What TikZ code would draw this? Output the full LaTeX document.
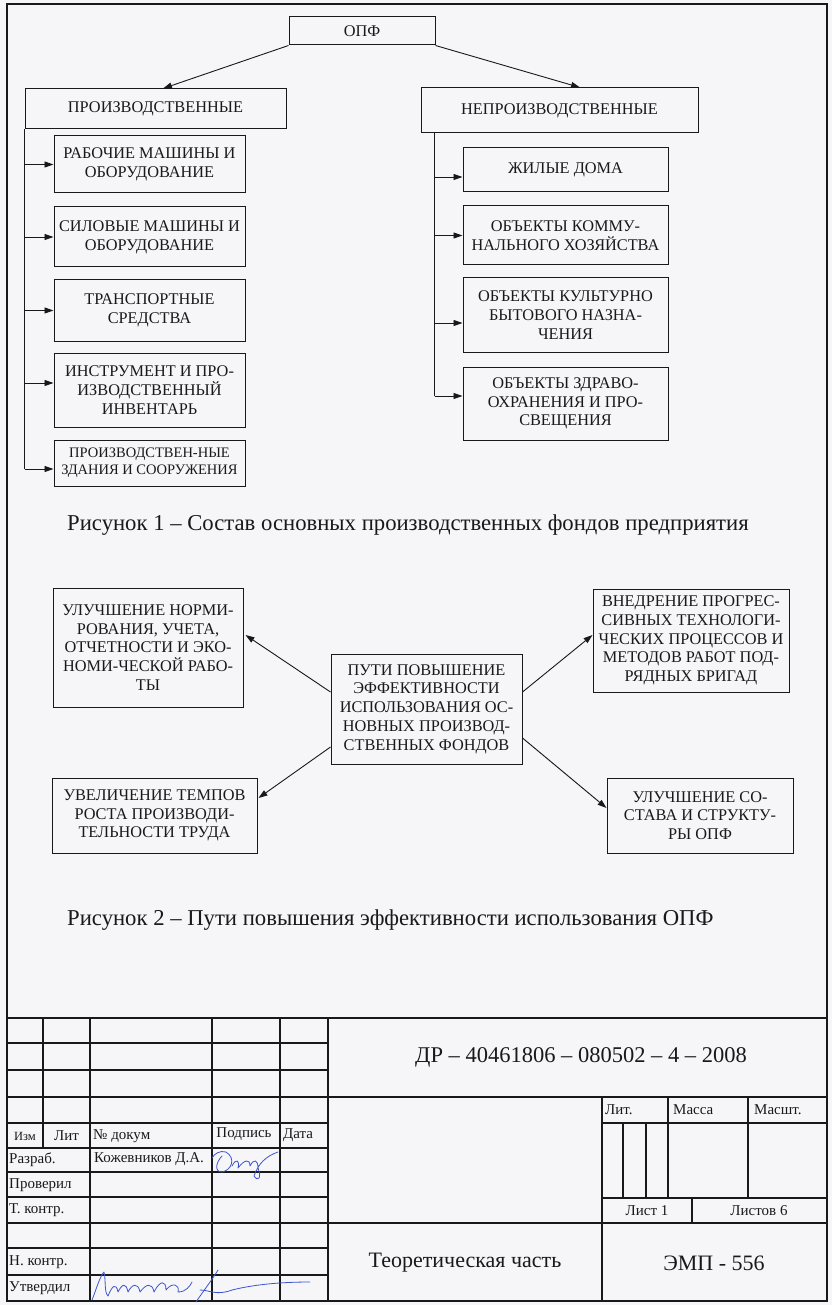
\documentclass[tikz,border=0pt]{standalone}
\usepackage{fontspec}
\setmainfont{Liberation Serif}
\usetikzlibrary{arrows.meta,calc}
\definecolor{paper}{RGB}{246,246,249}
\definecolor{ink}{RGB}{25,25,25}
\definecolor{sig}{RGB}{60,85,205}
\begin{document}
\begin{tikzpicture}[x=1pt,y=-1pt,
  box/.style={draw=ink, line width=1pt, inner sep=0pt, align=center, text=ink, font=\fontsize{16.3}{18.7}\selectfont},
  arr/.style={draw=ink, line width=0.9pt, -{Triangle[length=9pt,width=6pt]}},
  ln/.style={draw=ink, line width=0.9pt},
  tb/.style={draw=ink, line width=1.3pt},
  capt/.style={font=\fontsize{22.7}{26}\selectfont, text=ink, inner sep=0pt, anchor=base west},
  big/.style={font=\fontsize{22}{26}\selectfont, text=ink, inner sep=0pt},
  sm/.style={font=\fontsize{15}{17}\selectfont, text=ink, inner sep=0pt},
  sg/.style={draw=sig, line width=0.8pt, line cap=round, line join=round},
]
\fill[paper] (0,0) rectangle (832,1305);
\useasboundingbox (0,0) rectangle (832,1305);
\draw[ink, line width=2pt] (7,4) rectangle (827,1301);

% ---------- Figure 1 ----------
\node[box, minimum width=146pt, minimum height=28pt] (opf) at (362,31) {ОПФ};
\node[box, minimum width=261pt, minimum height=40pt] (prod) at (155.5,109) {ПРОИЗВОДСТВЕННЫЕ};
\node[box, minimum width=277pt, minimum height=45pt] (nonprod) at (559.5,110.5) {НЕПРОИЗВОДСТВЕННЫЕ};

\node[box, minimum width=191pt, minimum height=57pt] (b1) at (149.5,164.5) {РАБОЧИЕ МАШИНЫ И\\ОБОРУДОВАНИЕ};
\node[box, minimum width=191pt, minimum height=60pt] (b2) at (149.5,237) {СИЛОВЫЕ МАШИНЫ И\\ОБОРУДОВАНИЕ};
\node[box, minimum width=191pt, minimum height=61pt] (b3) at (149.5,310.5) {ТРАНСПОРТНЫЕ\\СРЕДСТВА};
\node[box, minimum width=191pt, minimum height=74pt] (b4) at (149.5,390) {ИНСТРУМЕНТ И ПРО-\\ИЗВОДСТВЕННЫЙ\\ИНВЕНТАРЬ};
\node[box, minimum width=191pt, minimum height=46pt, font=\fontsize{14.5}{17}\selectfont] (b5) at (149.5,463) {ПРОИЗВОДСТВЕН-НЫЕ\\ЗДАНИЯ И СООРУЖЕНИЯ};

\node[box, minimum width=205pt, minimum height=44pt] (r1) at (565.5,170) {ЖИЛЫЕ ДОМА};
\node[box, minimum width=205pt, minimum height=59pt] (r2) at (565.5,235.5) {ОБЪЕКТЫ КОММУ-\\НАЛЬНОГО ХОЗЯЙСТВА};
\node[box, minimum width=205pt, minimum height=74pt] (r3) at (565.5,315) {ОБЪЕКТЫ КУЛЬТУРНО\\БЫТОВОГО НАЗНА-\\ЧЕНИЯ};
\node[box, minimum width=205pt, minimum height=73pt] (r4) at (565.5,403.5) {ОБЪЕКТЫ ЗДРАВО-\\ОХРАНЕНИЯ И ПРО-\\СВЕЩЕНИЯ};

\draw[arr] (opf.south west) -- ($(prod.north)+(7.5,0)$);
\draw[arr] (opf.south east) -- ($(nonprod.north)+(20.5,0)$);

\coordinate (a1) at (b1.west);
\coordinate (a2) at (b2.west);
\coordinate (a3) at (b3.west);
\coordinate (a4) at ($(b4.west)+(0,-7)$);
\coordinate (a5) at ($(b5.west)+(0,6)$);
\draw[ln] (prod.south west) -- (prod.south west |- a5);
\foreach \a in {a1,a2,a3,a4,a5} \draw[arr] (prod.south west |- \a) -- (\a);

\coordinate (rt) at ($(nonprod.south west)+(14,0)$);
\coordinate (c1) at ($(r1.west)+(0,7)$);
\coordinate (c2) at (r2.west);
\coordinate (c3) at ($(r3.west)+(0,8)$);
\coordinate (c4) at ($(r4.west)+(0,-7.5)$);
\draw[ln] (rt) -- (rt |- c4);
\foreach \a in {c1,c2,c3,c4} \draw[arr] (rt |- \a) -- (\a);

\node[capt] (cap1) at (67,530) {Рисунок 1 – Состав основных производственных фондов предприятия};

% ---------- Figure 2 ----------
\node[box, minimum width=190pt, minimum height=119pt] (n1) at (148,647.5) {УЛУЧШЕНИЕ НОРМИ-\\РОВАНИЯ, УЧЕТА,\\ОТЧЕТНОСТИ И ЭКО-\\НОМИ-ЧЕСКОЙ РАБО-\\ТЫ};
\node[box, minimum width=191pt, minimum height=110pt] (ctr) at (426.5,709) {ПУТИ ПОВЫШЕНИЕ\\ЭФФЕКТИВНОСТИ\\ИСПОЛЬЗОВАНИЯ ОС-\\НОВНЫХ ПРОИЗВОД-\\СТВЕННЫХ ФОНДОВ};
\node[box, minimum width=196pt, minimum height=103pt] (v1) at (691,640.5) {ВНЕДРЕНИЕ ПРОГРЕС-\\СИВНЫХ ТЕХНОЛОГИ-\\ЧЕСКИХ ПРОЦЕССОВ И\\МЕТОДОВ РАБОТ ПОД-\\РЯДНЫХ БРИГАД};
\node[box, minimum width=205pt, minimum height=75pt] (u1) at (154.5,815.5) {УВЕЛИЧЕНИЕ ТЕМПОВ\\РОСТА ПРОИЗВОДИ-\\ТЕЛЬНОСТИ ТРУДА};
\node[box, minimum width=186pt, minimum height=75pt] (s1) at (700,815.5) {УЛУЧШЕНИЕ СО-\\СТАВА И СТРУКТУ-\\РЫ ОПФ};

\draw[arr] ($(ctr.west)+(0,-17)$) -- ($(n1.east)+(2,-12.5)$);
\draw[arr] ($(ctr.west)+(0,38)$) -- ($(u1.east)+(1,-17.5)$);
\draw[arr] ($(ctr.east)+(0,-17)$) -- ($(v1.west)+(0,-5.5)$);
\draw[arr] ($(ctr.east)+(0,29)$) -- ($(s1.west)+(0,-7.5)$);

\node[capt] (cap2) at (67,925) {Рисунок 2 – Пути повышения эффективности использования ОПФ};

% ---------- Title block ----------
\draw[tb] (7,1018) -- (827,1018);
\draw[tb] (7,1097) -- (827,1097);
\draw[tb] (7,1223) -- (827,1223);
\foreach \y in {1043,1070,1123,1148,1172,1197,1248,1275} \draw[tb] (7,\y) -- (328,\y);
\draw[tb] (602,1123) -- (827,1123);
\draw[tb] (602,1198) -- (827,1198);
\draw[tb] (43,1018) -- (43,1148);
\foreach \x in {90,212,280,328} \draw[tb] (\x,1018) -- (\x,1301);
\draw[tb] (602,1097) -- (602,1301);
\draw[tb] (668,1097) -- (668,1198);
\draw[tb] (748,1097) -- (748,1198);
\draw[tb] (623,1123) -- (623,1198);
\draw[tb] (646,1123) -- (646,1198);
\draw[tb] (692,1198) -- (692,1223);

\node[sm, font=\fontsize{12.5}{15}\selectfont] (t-izm) at (25,1136) {Изм};
\node[sm] (t-lit) at (66.5,1136) {Лит};
\node[sm, anchor=west] (t-dok) at (93,1136) {№ докум};
\node[sm] (t-podp) at (244,1134) {Подпись};
\node[sm, anchor=west] (t-data) at (283,1135) {Дата};
\node[sm, anchor=west] (t-razr) at (9,1160) {Разраб.};
\node[sm, anchor=west] (t-kozh) at (94,1159) {Кожевников Д.А.};
\node[sm, anchor=west] (t-prov) at (9,1185) {Проверил};
\node[sm, anchor=west] (t-tk) at (9,1210) {Т. контр.};
\node[sm, anchor=west] (t-nk) at (9,1262) {Н. контр.};
\node[sm, anchor=west] (t-utv) at (9,1288) {Утвердил};

\node[big, font=\fontsize{22.5}{26}\selectfont] (t-code) at (581,1057) {ДР – 40461806 – 080502 – 4 – 2008};
\node[sm, anchor=west] (t-lit2) at (605,1110) {Лит.};
\node[sm, anchor=west] (t-massa) at (673,1110) {Масса};
\node[sm, anchor=west] (t-masht) at (754,1110) {Масшт.};
\node[sm] (t-list) at (647,1211) {Лист 1};
\node[sm] (t-listov) at (759,1211) {Листов 6};
\node[big] (t-teor) at (465,1263) {Теоретическая часть};
\node[big] (t-emp) at (714,1263) {ЭМП - 556};

% signatures
\draw[sg] (222,1156) .. controls (216,1162) and (214,1172) .. (222,1172) .. controls (232,1170) and (236,1158) .. (226,1152) .. controls (220,1150) and (214,1154) .. (212,1158);
\draw[sg] (232,1166) .. controls (236,1158) and (240,1160) .. (238,1168) .. controls (244,1160) and (250,1158) .. (250,1166) .. controls (254,1158) and (258,1160) .. (258,1168) .. controls (262,1178) and (258,1182) .. (254,1176) .. controls (258,1164) and (266,1156) .. (278,1152);
\draw[sg] (92,1300) .. controls (96,1290) and (100,1276) .. (104,1272) .. controls (106,1280) and (104,1292) .. (108,1296) .. controls (112,1286) and (116,1282) .. (118,1292) .. controls (122,1284) and (126,1282) .. (128,1292) .. controls (132,1284) and (138,1282) .. (140,1292) .. controls (146,1284) and (152,1282) .. (154,1292) .. controls (160,1280) and (166,1280) .. (166,1290) .. controls (172,1282) and (180,1284) .. (178,1292) .. controls (186,1292) and (190,1286) .. (192,1282);
\draw[sg] (196,1302) .. controls (204,1290) and (212,1280) .. (218,1270);
\draw[sg] (200,1290) .. controls (210,1290) and (216,1296) .. (232,1290) .. controls (256,1284) and (284,1282) .. (310,1282);
\end{tikzpicture}
\end{document}
